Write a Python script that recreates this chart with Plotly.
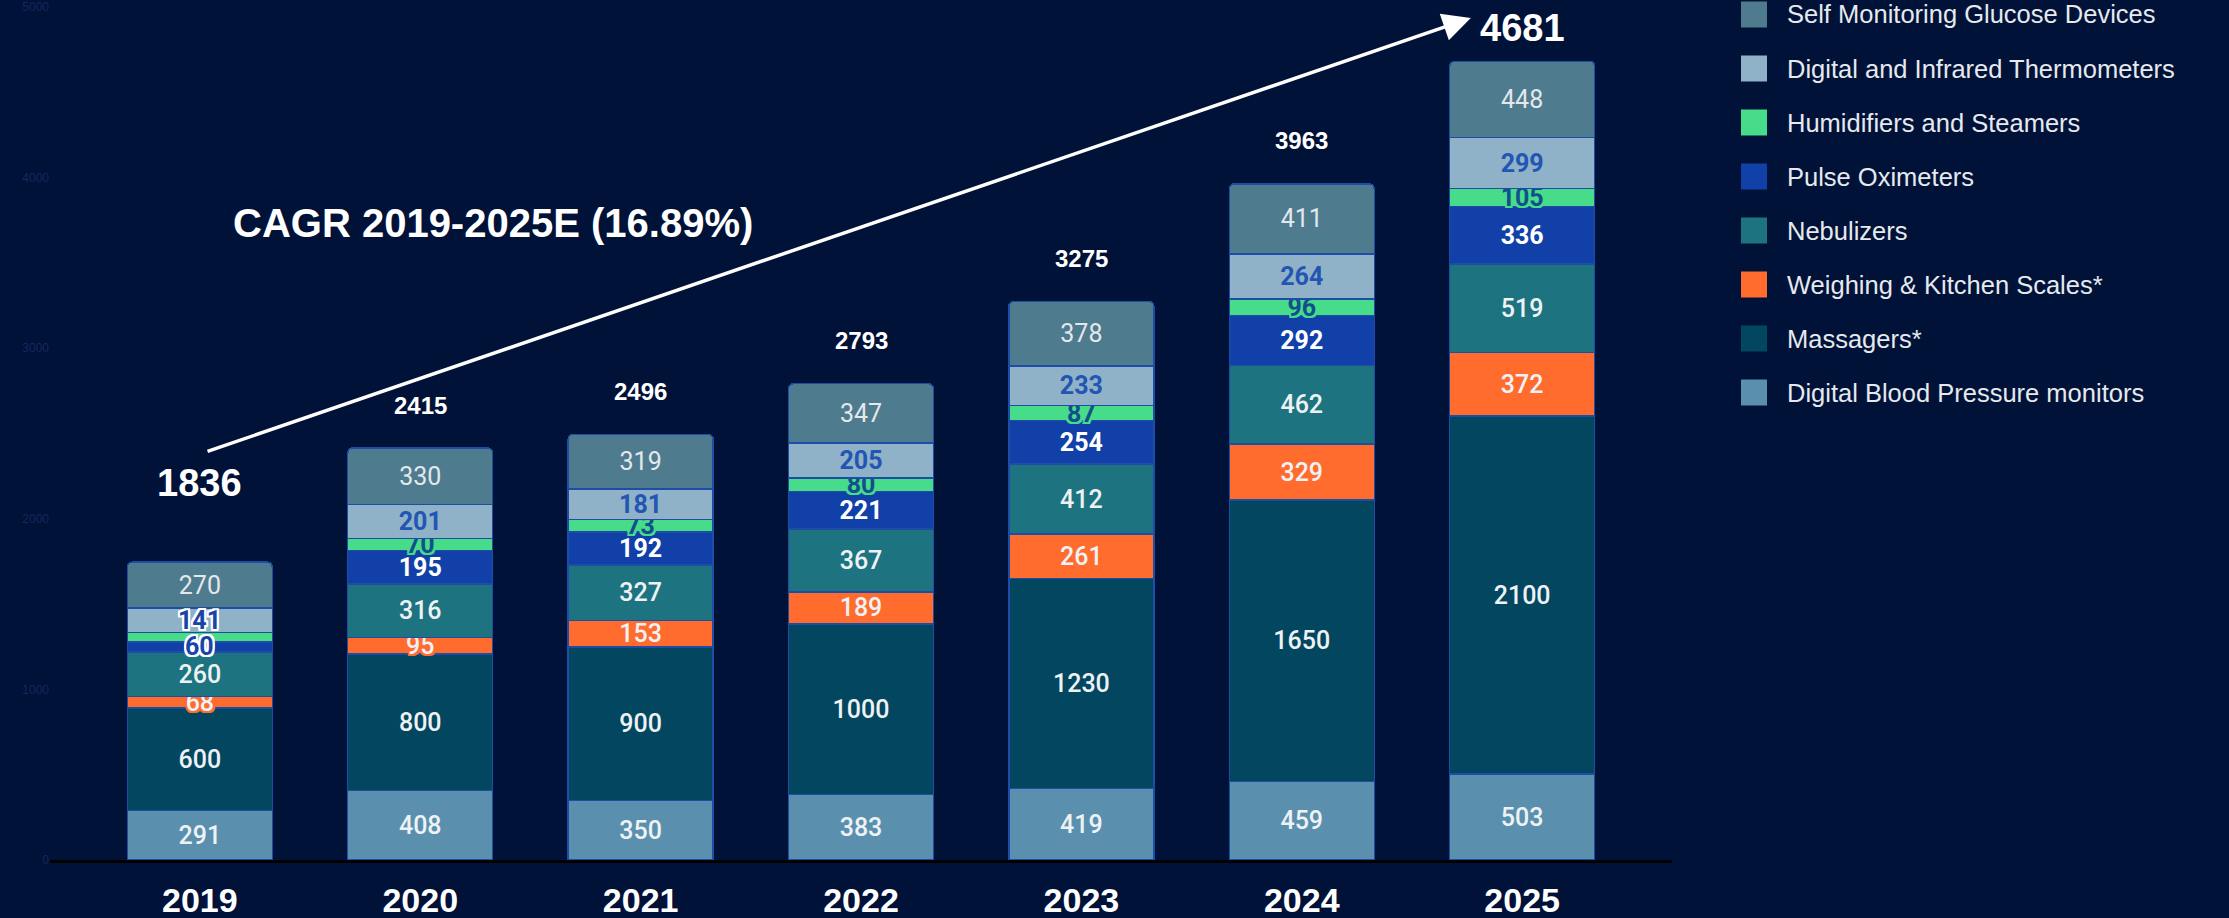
import plotly.graph_objects as go

# ---------------- data ----------------
years = ["2019", "2020", "2021", "2022", "2023", "2024", "2025"]
bp_monitors = [291, 408, 350, 383, 419, 459, 503]
massagers = [600, 800, 900, 1000, 1230, 1650, 2100]
scales = [68, 95, 153, 189, 261, 329, 372]
nebulizers = [260, 316, 327, 367, 412, 462, 519]
pulse_oximeters = [60, 195, 192, 221, 254, 292, 336]
humidifiers = [56, 70, 73, 80, 87, 96, 105]          # 2019 value not labelled (estimated)
humidifiers_labelled = [False, True, True, True, True, True, True]
thermometers = [141, 201, 181, 205, 233, 264, 299]
glucose = [270, 330, 319, 347, 378, 411, 448]
totals = [1836, 2415, 2496, 2793, 3275, 3963, 4681]
cagr_text = "CAGR 2019-2025E (16.89%)"

names = ["Digital Blood Pressure monitors", "Massagers*", "Weighing & Kitchen Scales*",
         "Nebulizers", "Pulse Oximeters", "Humidifiers and Steamers",
         "Digital and Infrared Thermometers", "Self Monitoring Glucose Devices"]
series = [bp_monitors, massagers, scales, nebulizers, pulse_oximeters,
          humidifiers, thermometers, glucose]
colors = ["#5a90ae", "#03465f", "#ff6c2e", "#1d7480", "#1040a8",
          "#46dc8a", "#8fb2c8", "#4e7b8d"]

BG = "#001238"
LIGHT = "#eef2f5"


def halo(c, r=2):
    pts = [(r, 0), (-r, 0), (0, r), (0, -r), (r, r), (-r, -r), (r, -r), (-r, r)]
    return ", ".join(f"{x}px {y}px 0 {c}" for x, y in pts)


# label styling per series
text_colors = [LIGHT, LIGHT, LIGHT, LIGHT, "#ffffff", "#12508c", "#2355b3", "#e3e8ec"]
text_weights = [500, 500, 500, 500, 700, 700, 700, 400]

fig = go.Figure()
for i, (name, vals, col) in enumerate(zip(names, series, colors)):
    texts = [str(v) for v in vals]
    if name == "Humidifiers and Steamers":
        texts = [str(v) if lab else "" for v, lab in zip(vals, humidifiers_labelled)]
    if name in ("Pulse Oximeters", "Digital and Infrared Thermometers"):
        texts[0] = ""  # 2019 labels drawn with a white halo below
    fig.add_trace(go.Bar(
        x=years, y=vals, name=name, showlegend=False,
        marker=dict(color=col, line=dict(color="#1d4da6", width=1.5)),
        text=texts, textposition="inside", insidetextanchor="middle",
        textangle=0, constraintext="none", cliponaxis=False,
        textfont=dict(family="Roboto", size=25, color=text_colors[i],
                      weight=text_weights[i], shadow=halo(col)),
        hoverinfo="skip",
    ))

annotations = []

# 2019 pulse oximeter and thermometer labels (blue text, white halo)
cum = [0] * len(years)
mids = {}
for name, vals in zip(names, series):
    mids[name] = cum[0] + vals[0] / 2
    cum = [c + v for c, v in zip(cum, vals)]
for name, vals in [("Pulse Oximeters", pulse_oximeters),
                   ("Digital and Infrared Thermometers", thermometers)]:
    annotations.append(dict(
        x=0, y=mids[name], xref="x", yref="y", text=str(vals[0]), showarrow=False,
        font=dict(family="Roboto", size=25, color="#1744a8", weight=700,
                  shadow=halo("#ffffff")),
        xanchor="center", yanchor="middle"))

# totals
for i, (yr, tot) in enumerate(zip(years, totals)):
    big = i in (0, len(years) - 1)
    annotations.append(dict(
        x=i, y=tot, xref="x", yref="y", text=str(tot), showarrow=False,
        font=dict(family="Liberation Sans", size=38 if big else 24, color="#ffffff",
                  weight="bold"),
        xanchor="center", yanchor="middle",
        yshift=64 if i == 0 else (33 if big else 43)))

# CAGR text and arrow
annotations.append(dict(
    x=1.33, y=3734, xref="x", yref="y", text=cagr_text, showarrow=False,
    font=dict(family="Liberation Sans", size=40, color="#ffffff", weight="bold"),
    xanchor="center", yanchor="middle"))
annotations.append(dict(
    x=5.767, y=4936, ax=0.028, ay=2392, xref="x", yref="y", axref="x", ayref="y",
    text="", showarrow=True, arrowhead=2, arrowsize=1.6, arrowwidth=3.5,
    arrowcolor="#ffffff", standoff=0))

# manual legend (top to bottom = stack top to bottom)
PL, PB, PW, PH = 50, 860, 1622, 853
shapes = []
for k, (name, col) in enumerate(zip(names[::-1], colors[::-1])):
    cy = 14.5 + 54 * k
    shapes.append(dict(type="rect", xref="paper", yref="paper",
                       x0=(1741 - PL) / PW, x1=(1767 - PL) / PW,
                       y0=(PB - (cy + 13)) / PH, y1=(PB - (cy - 13)) / PH,
                       fillcolor=col, line=dict(width=0), layer="above"))
    annotations.append(dict(
        x=(1785 - PL) / PW, y=(PB - cy) / PH, xref="paper", yref="paper",
        text=name, showarrow=False, xanchor="left", yanchor="middle",
        font=dict(family="Liberation Sans", size=25.5, color="#e6e9ee")))

fig.update_layout(
    width=2229, height=918,
    barmode="stack", bargap=0.342, barcornerradius=5,
    paper_bgcolor=BG, plot_bgcolor=BG,
    margin=dict(l=PL, r=2229 - 1672, t=7, b=58, autoexpand=False),
    annotations=annotations, shapes=shapes,
    showlegend=False,
    xaxis=dict(type="category", range=[-0.68, 6.68], showgrid=False, zeroline=False,
               showline=True, linecolor="#000000", linewidth=3, ticks="",
               tickfont=dict(family="Liberation Sans", size=34, color="#ffffff",
                             weight="bold"),
               ticklabelstandoff=8, automargin=False, fixedrange=True),
    yaxis=dict(range=[0, 5000], showgrid=False, zeroline=False, showline=False,
               tickvals=[0, 1000, 2000, 3000, 4000, 5000], ticks="",
               tickfont=dict(family="Liberation Sans", size=12, color="#15285e"),
               automargin=False, fixedrange=True),
)

fig.write_html(
    "out.html", config={"displayModeBar": False},
    post_script="document.body.style.margin='0';"
                "document.body.style.background='#001238';"
                "document.body.style.overflow='hidden';")
